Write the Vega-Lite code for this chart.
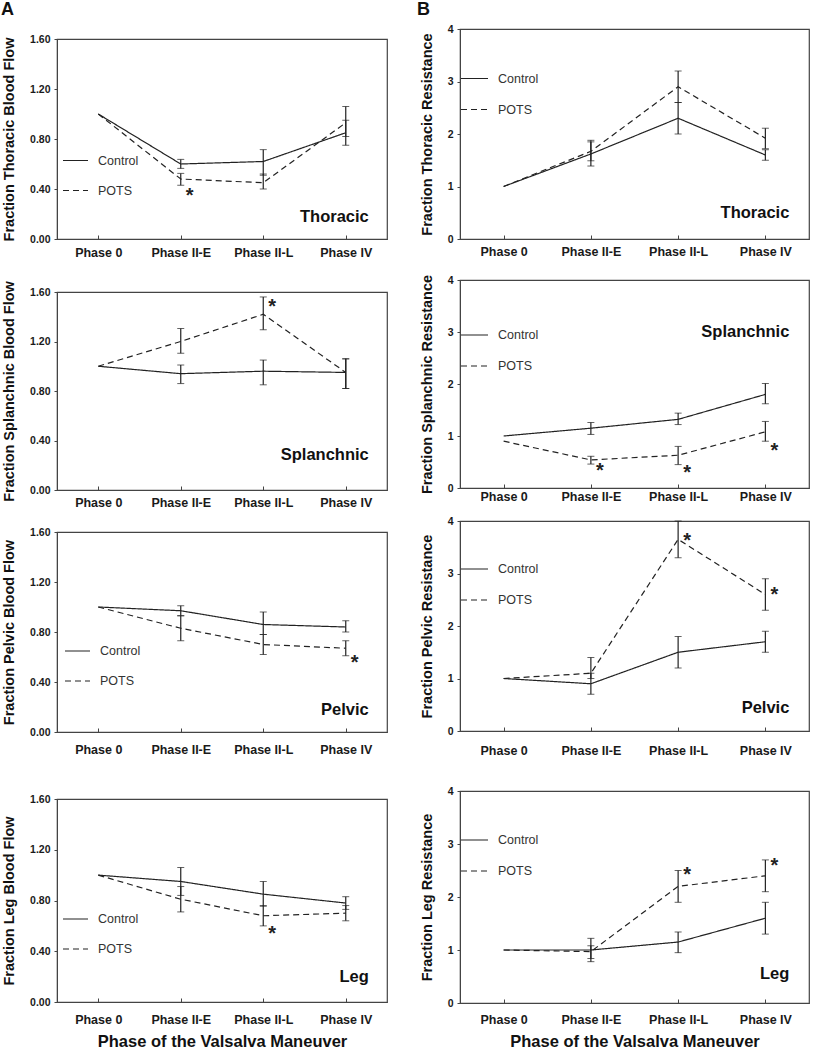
{
 "$schema": "https://vega.github.io/schema/vega-lite/v6.json",
 "padding": {"left": 0, "top": 1, "right": 2, "bottom": 0},
 "config": {
  "font": "Liberation Sans",
  "view": {"stroke": "#444", "strokeWidth": 1.2},
  "axis": {"grid": false, "domainColor": "#444", "tickColor": "#444", "labelColor": "#1a1a1a", "titleColor": "#111", "labelFontWeight": "bold", "titleFontWeight": "bold", "labelFont": "Liberation Sans", "titleFont": "Liberation Sans"},
  "axisY": {"labelFontSize": 10.5, "tickSize": 3, "labelPadding": 4, "titleFontSize": 14.5, "titlePadding": 13},
  "axisX": {"labelFontSize": 12.5, "tickSize": -4, "labelAngle": 0, "titleFontSize": 16.5, "titlePadding": 7},
  "legend": {"symbolType": "stroke", "symbolSize": 625, "symbolStrokeWidth": 1.2, "symbolStrokeColor": "#222", "labelFontSize": 12.5, "labelFont": "Liberation Sans", "labelColor": "#333", "labelOffset": 9, "rowPadding": 10, "padding": 0, "title": null},
  "title": {"font": "Liberation Sans", "fontWeight": "bold", "fontSize": 18, "color": "#111", "anchor": "start", "frame": "group", "baseline": "alphabetic"}
 },
 "datasets": {
  "pts": [
   {"panel":"A1","group":"Control","phase":"Phase 0","m":1.0},
   {"panel":"A1","group":"Control","phase":"Phase II-E","m":0.60,"lo":0.565,"hi":0.637},
   {"panel":"A1","group":"Control","phase":"Phase II-L","m":0.62,"lo":0.51,"hi":0.715},
   {"panel":"A1","group":"Control","phase":"Phase IV","m":0.85,"lo":0.75,"hi":0.95},
   {"panel":"A1","group":"POTS","phase":"Phase 0","m":1.0},
   {"panel":"A1","group":"POTS","phase":"Phase II-E","m":0.48,"lo":0.43,"hi":0.525},
   {"panel":"A1","group":"POTS","phase":"Phase II-L","m":0.45,"lo":0.40,"hi":0.52},
   {"panel":"A1","group":"POTS","phase":"Phase IV","m":0.93,"lo":0.82,"hi":1.06},
   {"panel":"A2","group":"Control","phase":"Phase 0","m":1.0},
   {"panel":"A2","group":"Control","phase":"Phase II-E","m":0.94,"lo":0.86,"hi":1.01},
   {"panel":"A2","group":"Control","phase":"Phase II-L","m":0.96,"lo":0.85,"hi":1.05},
   {"panel":"A2","group":"Control","phase":"Phase IV","m":0.95,"lo":0.82,"hi":1.06},
   {"panel":"A2","group":"POTS","phase":"Phase 0","m":1.0},
   {"panel":"A2","group":"POTS","phase":"Phase II-E","m":1.20,"lo":1.105,"hi":1.305},
   {"panel":"A2","group":"POTS","phase":"Phase II-L","m":1.42,"lo":1.295,"hi":1.56},
   {"panel":"A2","group":"POTS","phase":"Phase IV","m":0.95,"lo":0.82,"hi":1.06},
   {"panel":"A3","group":"Control","phase":"Phase 0","m":1.0},
   {"panel":"A3","group":"Control","phase":"Phase II-E","m":0.97,"lo":0.93,"hi":1.01},
   {"panel":"A3","group":"Control","phase":"Phase II-L","m":0.86,"lo":0.78,"hi":0.96},
   {"panel":"A3","group":"Control","phase":"Phase IV","m":0.84,"lo":0.80,"hi":0.89},
   {"panel":"A3","group":"POTS","phase":"Phase 0","m":1.0},
   {"panel":"A3","group":"POTS","phase":"Phase II-E","m":0.83,"lo":0.73,"hi":0.93},
   {"panel":"A3","group":"POTS","phase":"Phase II-L","m":0.70,"lo":0.62,"hi":0.78},
   {"panel":"A3","group":"POTS","phase":"Phase IV","m":0.67,"lo":0.61,"hi":0.73},
   {"panel":"A4","group":"Control","phase":"Phase 0","m":1.0},
   {"panel":"A4","group":"Control","phase":"Phase II-E","m":0.95,"lo":0.84,"hi":1.06},
   {"panel":"A4","group":"Control","phase":"Phase II-L","m":0.85,"lo":0.755,"hi":0.95},
   {"panel":"A4","group":"Control","phase":"Phase IV","m":0.78,"lo":0.73,"hi":0.83},
   {"panel":"A4","group":"POTS","phase":"Phase 0","m":1.0},
   {"panel":"A4","group":"POTS","phase":"Phase II-E","m":0.81,"lo":0.71,"hi":0.91},
   {"panel":"A4","group":"POTS","phase":"Phase II-L","m":0.68,"lo":0.60,"hi":0.76},
   {"panel":"A4","group":"POTS","phase":"Phase IV","m":0.70,"lo":0.64,"hi":0.76},
   {"panel":"B1","group":"Control","phase":"Phase 0","m":1.0},
   {"panel":"B1","group":"Control","phase":"Phase II-E","m":1.62,"lo":1.39,"hi":1.85},
   {"panel":"B1","group":"Control","phase":"Phase II-L","m":2.3,"lo":2.0,"hi":2.6},
   {"panel":"B1","group":"Control","phase":"Phase IV","m":1.6,"lo":1.5,"hi":1.7},
   {"panel":"B1","group":"POTS","phase":"Phase 0","m":1.0},
   {"panel":"B1","group":"POTS","phase":"Phase II-E","m":1.67,"lo":1.49,"hi":1.88},
   {"panel":"B1","group":"POTS","phase":"Phase II-L","m":2.9,"lo":2.6,"hi":3.2},
   {"panel":"B1","group":"POTS","phase":"Phase IV","m":1.92,"lo":1.72,"hi":2.11},
   {"panel":"B2","group":"Control","phase":"Phase 0","m":1.0},
   {"panel":"B2","group":"Control","phase":"Phase II-E","m":1.15,"lo":1.03,"hi":1.26},
   {"panel":"B2","group":"Control","phase":"Phase II-L","m":1.32,"lo":1.22,"hi":1.44},
   {"panel":"B2","group":"Control","phase":"Phase IV","m":1.80,"lo":1.62,"hi":2.01},
   {"panel":"B2","group":"POTS","phase":"Phase 0","m":0.9},
   {"panel":"B2","group":"POTS","phase":"Phase II-E","m":0.54,"lo":0.46,"hi":0.61},
   {"panel":"B2","group":"POTS","phase":"Phase II-L","m":0.63,"lo":0.45,"hi":0.80},
   {"panel":"B2","group":"POTS","phase":"Phase IV","m":1.08,"lo":0.90,"hi":1.28},
   {"panel":"B3","group":"Control","phase":"Phase 0","m":1.0},
   {"panel":"B3","group":"Control","phase":"Phase II-E","m":0.9,"lo":0.7,"hi":1.1},
   {"panel":"B3","group":"Control","phase":"Phase II-L","m":1.5,"lo":1.2,"hi":1.8},
   {"panel":"B3","group":"Control","phase":"Phase IV","m":1.7,"lo":1.5,"hi":1.9},
   {"panel":"B3","group":"POTS","phase":"Phase 0","m":1.0},
   {"panel":"B3","group":"POTS","phase":"Phase II-E","m":1.1,"lo":1.0,"hi":1.4},
   {"panel":"B3","group":"POTS","phase":"Phase II-L","m":3.65,"lo":3.3,"hi":4.0},
   {"panel":"B3","group":"POTS","phase":"Phase IV","m":2.6,"lo":2.3,"hi":2.9},
   {"panel":"B4","group":"Control","phase":"Phase 0","m":1.0},
   {"panel":"B4","group":"Control","phase":"Phase II-E","m":1.0,"lo":0.78,"hi":1.22},
   {"panel":"B4","group":"Control","phase":"Phase II-L","m":1.15,"lo":0.95,"hi":1.34},
   {"panel":"B4","group":"Control","phase":"Phase IV","m":1.6,"lo":1.3,"hi":1.9},
   {"panel":"B4","group":"POTS","phase":"Phase 0","m":1.0},
   {"panel":"B4","group":"POTS","phase":"Phase II-E","m":0.97,"lo":0.84,"hi":1.08},
   {"panel":"B4","group":"POTS","phase":"Phase II-L","m":2.2,"lo":1.9,"hi":2.5},
   {"panel":"B4","group":"POTS","phase":"Phase IV","m":2.4,"lo":2.1,"hi":2.7}
  ],
  "ast": [
   {"panel":"A1","phase":"Phase II-E","m":0.39},
   {"panel":"A2","phase":"Phase II-L","m":1.53},
   {"panel":"A3","phase":"Phase IV","m":0.60},
   {"panel":"A4","phase":"Phase II-L","m":0.58},
   {"panel":"B2","phase":"Phase II-E","m":0.45},
   {"panel":"B2","phase":"Phase II-L","m":0.40},
   {"panel":"B2","phase":"Phase IV","m":0.82},
   {"panel":"B3","phase":"Phase II-L","m":3.73},
   {"panel":"B3","phase":"Phase IV","m":2.70},
   {"panel":"B4","phase":"Phase II-L","m":2.53},
   {"panel":"B4","phase":"Phase IV","m":2.69}
  ],
  "lab": [
   {"panel":"A1","phase":"Phase IV","m":0.18,"label":"Thoracic"},
   {"panel":"A2","phase":"Phase IV","m":0.28,"label":"Splanchnic"},
   {"panel":"A3","phase":"Phase IV","m":0.18,"label":"Pelvic"},
   {"panel":"A4","phase":"Phase IV","m":0.20,"label":"Leg"},
   {"panel":"B1","phase":"Phase IV","m":0.5,"label":"Thoracic"},
   {"panel":"B2","phase":"Phase IV","m":3.0,"label":"Splanchnic"},
   {"panel":"B3","phase":"Phase IV","m":0.44,"label":"Pelvic"},
   {"panel":"B4","phase":"Phase IV","m":0.55,"label":"Leg"}
  ]
 },
 "spacing": 29,
 "resolve": {"scale": {"strokeDash": "independent"}, "legend": {"strokeDash": "independent"}},
 "hconcat": [
  {
   "spacing": 16,
   "resolve": {"scale": {"strokeDash": "independent"}, "legend": {"strokeDash": "independent"}},
   "vconcat": [
    {
     "spacing": 10,
     "resolve": {"scale": {"strokeDash": "independent"}, "legend": {"strokeDash": "independent"}},
     "vconcat": [
      {"width": 330, "height": 1, "view": {"stroke": null}, "data": {"values": []}, "mark": "point",
       "title": {"text": "A", "offset": 3, "dx": -56}},
      {
       "spacing": 20,
       "resolve": {"scale": {"strokeDash": "independent"}, "legend": {"strokeDash": "independent"}},
       "vconcat": [
        {
         "width": 330, "height": 200,
         "encoding": {
          "x": {"field": "phase", "type": "nominal", "scale": {"type": "point", "padding": 0.5, "domain": ["Phase 0","Phase II-E","Phase II-L","Phase IV"]}, "axis": {"title": null, "labelPadding": 11}},
          "y": {"field": "m", "type": "quantitative", "scale": {"domain": [0, 1.6]}, "axis": {"title": "Fraction Thoracic Blood Flow", "values": [0,0.4,0.8,1.2,1.6], "format": ".2f"}}
         },
         "layer": [
          {"data": {"name": "pts"}, "transform": [{"filter": "datum.panel==='A1'"}], "mark": {"type": "line", "color": "#222", "strokeWidth": 1.2},
           "encoding": {"strokeDash": {"field": "group", "type": "nominal", "scale": {"domain": ["Control","POTS"], "range": [[1,0],[6,4]]}, "legend": {"orient": "none", "legendX": 5, "legendY": 108}}}},
          {"data": {"name": "pts"}, "transform": [{"filter": "datum.panel==='A1' && isValid(datum.lo)"}], "mark": {"type": "errorbar", "color": "#222", "ticks": {"size": 7, "color": "#222"}, "rule": {"strokeWidth": 1.2}},
           "encoding": {"y": {"field": "lo", "type": "quantitative", "title": "Fraction Thoracic Blood Flow"}, "y2": {"field": "hi"}}},
          {"data": {"name": "ast"}, "transform": [{"filter": "datum.panel==='A1'"}], "mark": {"type": "text", "text": "*", "fontSize": 20, "fontWeight": "bold", "dx": 9, "dy": 6, "color": "#222"}},
          {"data": {"name": "lab"}, "transform": [{"filter": "datum.panel==='A1'"}], "mark": {"type": "text", "fontSize": 16.5, "fontWeight": "bold", "align": "right", "baseline": "middle", "dx": 23, "color": "#111"}, "encoding": {"text": {"field": "label"}}}
         ]
        },
        {
         "width": 330, "height": 198,
         "encoding": {
          "x": {"field": "phase", "type": "nominal", "scale": {"type": "point", "padding": 0.5, "domain": ["Phase 0","Phase II-E","Phase II-L","Phase IV"]}, "axis": {"title": null, "labelPadding": 10.3}},
          "y": {"field": "m", "type": "quantitative", "scale": {"domain": [0, 1.6]}, "axis": {"title": "Fraction Splanchnic Blood Flow", "values": [0,0.4,0.8,1.2,1.6], "format": ".2f"}}
         },
         "layer": [
          {"data": {"name": "pts"}, "transform": [{"filter": "datum.panel==='A2'"}], "mark": {"type": "line", "color": "#222", "strokeWidth": 1.2},
           "encoding": {"strokeDash": {"field": "group", "type": "nominal", "scale": {"domain": ["Control","POTS"], "range": [[1,0],[6,4]]}, "legend": null}}},
          {"data": {"name": "pts"}, "transform": [{"filter": "datum.panel==='A2' && isValid(datum.lo)"}], "mark": {"type": "errorbar", "color": "#222", "ticks": {"size": 7, "color": "#222"}, "rule": {"strokeWidth": 1.2}},
           "encoding": {"y": {"field": "lo", "type": "quantitative", "title": "Fraction Splanchnic Blood Flow"}, "y2": {"field": "hi"}}},
          {"data": {"name": "ast"}, "transform": [{"filter": "datum.panel==='A2'"}], "mark": {"type": "text", "text": "*", "fontSize": 20, "fontWeight": "bold", "dx": 9, "dy": 6, "color": "#222"}},
          {"data": {"name": "lab"}, "transform": [{"filter": "datum.panel==='A2'"}], "mark": {"type": "text", "fontSize": 16.5, "fontWeight": "bold", "align": "right", "baseline": "middle", "dx": 23, "color": "#111"}, "encoding": {"text": {"field": "label"}}}
         ]
        }
       ]
      }
     ]
    },
    {
     "spacing": 36,
     "resolve": {"scale": {"strokeDash": "independent"}, "legend": {"strokeDash": "independent"}},
     "vconcat": [
      {
       "width": 330, "height": 200,
       "encoding": {
        "x": {"field": "phase", "type": "nominal", "scale": {"type": "point", "padding": 0.5, "domain": ["Phase 0","Phase II-E","Phase II-L","Phase IV"]}, "axis": {"title": null, "labelPadding": 15.7}},
        "y": {"field": "m", "type": "quantitative", "scale": {"domain": [0, 1.6]}, "axis": {"title": "Fraction Pelvic Blood Flow", "values": [0,0.4,0.8,1.2,1.6], "format": ".2f"}}
       },
       "layer": [
        {"data": {"name": "pts"}, "transform": [{"filter": "datum.panel==='A3'"}], "mark": {"type": "line", "color": "#222", "strokeWidth": 1.2},
         "encoding": {"strokeDash": {"field": "group", "type": "nominal", "scale": {"domain": ["Control","POTS"], "range": [[1,0],[6,4]]}, "legend": {"orient": "none", "legendX": 7, "legendY": 105.5}}}},
        {"data": {"name": "pts"}, "transform": [{"filter": "datum.panel==='A3' && isValid(datum.lo)"}], "mark": {"type": "errorbar", "color": "#222", "ticks": {"size": 7, "color": "#222"}, "rule": {"strokeWidth": 1.2}},
         "encoding": {"y": {"field": "lo", "type": "quantitative", "title": "Fraction Pelvic Blood Flow"}, "y2": {"field": "hi"}}},
        {"data": {"name": "ast"}, "transform": [{"filter": "datum.panel==='A3'"}], "mark": {"type": "text", "text": "*", "fontSize": 20, "fontWeight": "bold", "dx": 9, "dy": 6, "color": "#222"}},
        {"data": {"name": "lab"}, "transform": [{"filter": "datum.panel==='A3'"}], "mark": {"type": "text", "fontSize": 16.5, "fontWeight": "bold", "align": "right", "baseline": "middle", "dx": 23, "color": "#111"}, "encoding": {"text": {"field": "label"}}}
       ]
      },
      {
       "width": 330, "height": 203,
       "encoding": {
        "x": {"field": "phase", "type": "nominal", "scale": {"type": "point", "padding": 0.5, "domain": ["Phase 0","Phase II-E","Phase II-L","Phase IV"]}, "axis": {"title": "Phase of the Valsalva Maneuver", "labelPadding": 15.7}},
        "y": {"field": "m", "type": "quantitative", "scale": {"domain": [0, 1.6]}, "axis": {"title": "Fraction Leg Blood Flow", "values": [0,0.4,0.8,1.2,1.6], "format": ".2f"}}
       },
       "layer": [
        {"data": {"name": "pts"}, "transform": [{"filter": "datum.panel==='A4'"}], "mark": {"type": "line", "color": "#222", "strokeWidth": 1.2},
         "encoding": {"strokeDash": {"field": "group", "type": "nominal", "scale": {"domain": ["Control","POTS"], "range": [[1,0],[6,4]]}, "legend": {"orient": "none", "legendX": 5, "legendY": 106.5}}}},
        {"data": {"name": "pts"}, "transform": [{"filter": "datum.panel==='A4' && isValid(datum.lo)"}], "mark": {"type": "errorbar", "color": "#222", "ticks": {"size": 7, "color": "#222"}, "rule": {"strokeWidth": 1.2}},
         "encoding": {"y": {"field": "lo", "type": "quantitative", "title": "Fraction Leg Blood Flow"}, "y2": {"field": "hi"}}},
        {"data": {"name": "ast"}, "transform": [{"filter": "datum.panel==='A4'"}], "mark": {"type": "text", "text": "*", "fontSize": 20, "fontWeight": "bold", "dx": 9, "dy": 6, "color": "#222"}},
        {"data": {"name": "lab"}, "transform": [{"filter": "datum.panel==='A4'"}], "mark": {"type": "text", "fontSize": 16.5, "fontWeight": "bold", "align": "right", "baseline": "middle", "dx": 23, "color": "#111"}, "encoding": {"text": {"field": "label"}}}
       ]
      }
     ]
    }
   ]
  },
  {
   "spacing": 11,
   "resolve": {"scale": {"strokeDash": "independent"}, "legend": {"strokeDash": "independent"}},
   "vconcat": [
    {
     "spacing": 0,
     "resolve": {"scale": {"strokeDash": "independent"}, "legend": {"strokeDash": "independent"}},
     "vconcat": [
      {"width": 349, "height": 1, "view": {"stroke": null}, "data": {"values": []}, "mark": "point",
       "title": {"text": "B", "offset": 3, "dx": -43}},
      {
       "spacing": 14,
       "resolve": {"scale": {"strokeDash": "independent"}, "legend": {"strokeDash": "independent"}},
       "vconcat": [
        {
         "width": 349, "height": 210,
         "encoding": {
          "x": {"field": "phase", "type": "nominal", "scale": {"type": "point", "padding": 0.5, "domain": ["Phase 0","Phase II-E","Phase II-L","Phase IV"]}, "axis": {"title": null, "labelPadding": 10.4}},
          "y": {"field": "m", "type": "quantitative", "scale": {"domain": [0, 4]}, "axis": {"title": "Fraction Thoracic Resistance", "values": [0,1,2,3,4], "format": "d"}}
         },
         "layer": [
          {"data": {"name": "pts"}, "transform": [{"filter": "datum.panel==='B1'"}], "mark": {"type": "line", "color": "#222", "strokeWidth": 1.2},
           "encoding": {"strokeDash": {"field": "group", "type": "nominal", "scale": {"domain": ["Control","POTS"], "range": [[1,0],[6,4]]}, "legend": {"orient": "none", "legendX": 0, "legendY": 35, "symbolSize": 729}}}},
          {"data": {"name": "pts"}, "transform": [{"filter": "datum.panel==='B1' && isValid(datum.lo)"}], "mark": {"type": "errorbar", "color": "#222", "ticks": {"size": 7, "color": "#222"}, "rule": {"strokeWidth": 1.2}},
           "encoding": {"y": {"field": "lo", "type": "quantitative", "title": "Fraction Thoracic Resistance"}, "y2": {"field": "hi"}}},
          {"data": {"name": "lab"}, "transform": [{"filter": "datum.panel==='B1'"}], "mark": {"type": "text", "fontSize": 16.5, "fontWeight": "bold", "align": "right", "baseline": "middle", "dx": 24, "color": "#111"}, "encoding": {"text": {"field": "label"}}}
         ]
        },
        {
         "width": 349, "height": 208,
         "encoding": {
          "x": {"field": "phase", "type": "nominal", "scale": {"type": "point", "padding": 0.5, "domain": ["Phase 0","Phase II-E","Phase II-L","Phase IV"]}, "axis": {"title": null, "labelPadding": 6.6}},
          "y": {"field": "m", "type": "quantitative", "scale": {"domain": [0, 4]}, "axis": {"title": "Fraction Splanchnic Resistance", "values": [0,1,2,3,4], "format": "d"}}
         },
         "layer": [
          {"data": {"name": "pts"}, "transform": [{"filter": "datum.panel==='B2'"}], "mark": {"type": "line", "color": "#222", "strokeWidth": 1.2},
           "encoding": {"strokeDash": {"field": "group", "type": "nominal", "scale": {"domain": ["Control","POTS"], "range": [[1,0],[6,4]]}, "legend": {"orient": "none", "legendX": 0, "legendY": 40.5, "symbolSize": 729}}}},
          {"data": {"name": "pts"}, "transform": [{"filter": "datum.panel==='B2' && isValid(datum.lo)"}], "mark": {"type": "errorbar", "color": "#222", "ticks": {"size": 7, "color": "#222"}, "rule": {"strokeWidth": 1.2}},
           "encoding": {"y": {"field": "lo", "type": "quantitative", "title": "Fraction Splanchnic Resistance"}, "y2": {"field": "hi"}}},
          {"data": {"name": "ast"}, "transform": [{"filter": "datum.panel==='B2'"}], "mark": {"type": "text", "text": "*", "fontSize": 20, "fontWeight": "bold", "dx": 9, "dy": 6, "color": "#222"}},
          {"data": {"name": "lab"}, "transform": [{"filter": "datum.panel==='B2'"}], "mark": {"type": "text", "fontSize": 16.5, "fontWeight": "bold", "align": "right", "baseline": "middle", "dx": 24, "color": "#111"}, "encoding": {"text": {"field": "label"}}}
         ]
        }
       ]
      }
     ]
    },
    {
     "spacing": 27,
     "resolve": {"scale": {"strokeDash": "independent"}, "legend": {"strokeDash": "independent"}},
     "vconcat": [
      {
       "width": 349, "height": 210,
       "encoding": {
        "x": {"field": "phase", "type": "nominal", "scale": {"type": "point", "padding": 0.5, "domain": ["Phase 0","Phase II-E","Phase II-L","Phase IV"]}, "axis": {"title": null, "labelPadding": 17.4}},
        "y": {"field": "m", "type": "quantitative", "scale": {"domain": [0, 4]}, "axis": {"title": "Fraction Pelvic Resistance", "values": [0,1,2,3,4], "format": "d"}}
       },
       "layer": [
        {"data": {"name": "pts"}, "transform": [{"filter": "datum.panel==='B3'"}], "mark": {"type": "line", "color": "#222", "strokeWidth": 1.2},
         "encoding": {"strokeDash": {"field": "group", "type": "nominal", "scale": {"domain": ["Control","POTS"], "range": [[1,0],[6,4]]}, "legend": {"orient": "none", "legendX": 0, "legendY": 33.5, "symbolSize": 729}}}},
        {"data": {"name": "pts"}, "transform": [{"filter": "datum.panel==='B3' && isValid(datum.lo)"}], "mark": {"type": "errorbar", "color": "#222", "ticks": {"size": 7, "color": "#222"}, "rule": {"strokeWidth": 1.2}},
         "encoding": {"y": {"field": "lo", "type": "quantitative", "title": "Fraction Pelvic Resistance"}, "y2": {"field": "hi"}}},
        {"data": {"name": "ast"}, "transform": [{"filter": "datum.panel==='B3'"}], "mark": {"type": "text", "text": "*", "fontSize": 20, "fontWeight": "bold", "dx": 9, "dy": 6, "color": "#222"}},
        {"data": {"name": "lab"}, "transform": [{"filter": "datum.panel==='B3'"}], "mark": {"type": "text", "fontSize": 16.5, "fontWeight": "bold", "align": "right", "baseline": "middle", "dx": 24, "color": "#111"}, "encoding": {"text": {"field": "label"}}}
       ]
      },
      {
       "width": 349, "height": 212,
       "encoding": {
        "x": {"field": "phase", "type": "nominal", "scale": {"type": "point", "padding": 0.5, "domain": ["Phase 0","Phase II-E","Phase II-L","Phase IV"]}, "axis": {"title": "Phase of the Valsalva Maneuver", "labelPadding": 14.7}},
        "y": {"field": "m", "type": "quantitative", "scale": {"domain": [0, 4]}, "axis": {"title": "Fraction Leg Resistance", "values": [0,1,2,3,4], "format": "d"}}
       },
       "layer": [
        {"data": {"name": "pts"}, "transform": [{"filter": "datum.panel==='B4'"}], "mark": {"type": "line", "color": "#222", "strokeWidth": 1.2},
         "encoding": {"strokeDash": {"field": "group", "type": "nominal", "scale": {"domain": ["Control","POTS"], "range": [[1,0],[6,4]]}, "legend": {"orient": "none", "legendX": 0, "legendY": 34.5, "symbolSize": 729}}}},
        {"data": {"name": "pts"}, "transform": [{"filter": "datum.panel==='B4' && isValid(datum.lo)"}], "mark": {"type": "errorbar", "color": "#222", "ticks": {"size": 7, "color": "#222"}, "rule": {"strokeWidth": 1.2}},
         "encoding": {"y": {"field": "lo", "type": "quantitative", "title": "Fraction Leg Resistance"}, "y2": {"field": "hi"}}},
        {"data": {"name": "ast"}, "transform": [{"filter": "datum.panel==='B4'"}], "mark": {"type": "text", "text": "*", "fontSize": 20, "fontWeight": "bold", "dx": 9, "dy": 6, "color": "#222"}},
        {"data": {"name": "lab"}, "transform": [{"filter": "datum.panel==='B4'"}], "mark": {"type": "text", "fontSize": 16.5, "fontWeight": "bold", "align": "right", "baseline": "middle", "dx": 24, "color": "#111"}, "encoding": {"text": {"field": "label"}}}
       ]
      }
     ]
    }
   ]
  }
 ]
}
